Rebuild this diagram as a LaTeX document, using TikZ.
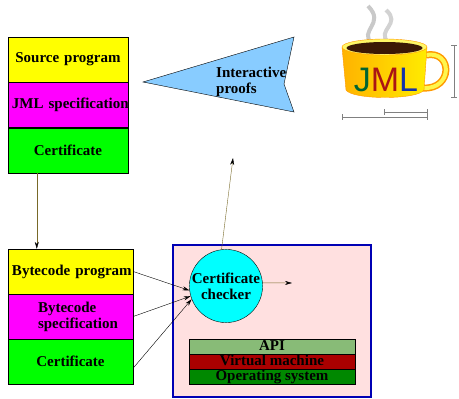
\documentclass[tikz,border=0pt]{standalone}
\usepackage{fontspec}
\setmainfont{Liberation Serif}
\setsansfont{Liberation Sans}
\usetikzlibrary{arrows.meta}
\definecolor{wire}{RGB}{120,105,40}
\definecolor{srcyellow}{RGB}{255,255,0}
\definecolor{specmagenta}{RGB}{255,0,255}
\definecolor{certgreen}{RGB}{0,255,0}
\definecolor{checkcyan}{RGB}{0,255,255}
\definecolor{jvmblue}{RGB}{0,0,180}
\definecolor{jvmpink}{RGB}{255,224,224}
\definecolor{proofblue}{RGB}{136,204,255}
\definecolor{apigreen}{RGB}{136,187,119}
\definecolor{vmred}{RGB}{170,0,0}
\definecolor{osgreen}{RGB}{0,136,0}
\definecolor{coffee}{RGB}{60,25,5}
\definecolor{jgreen}{RGB}{0,100,50}
\definecolor{mred}{RGB}{170,20,20}
\definecolor{lblue}{RGB}{20,50,170}

\begin{document}
\begin{tikzpicture}[x=1pt,y=-1pt,>={Stealth[length=7pt,width=4pt,black]},
    every node/.style={font=\fontsize{15}{16}\selectfont\bfseries},
    part/.style={draw, rectangle, inner ysep=0, minimum height=45, align=center},
    layer/.style={draw, rectangle, inner sep=0, minimum width=166, minimum height=15, text height=11, text depth=4}]
    \useasboundingbox (0,0) rectangle (459,399);

    \node at (68,59.5)  [part,fill=srcyellow,text width=112,inner xsep=4] (src) {\mbox{Source program}};
    \node at (68,105)   [part,fill=specmagenta,text width=112,inner xsep=4] (spec) {\mbox{JML specification}};
    \node at (68,150.5) [part,fill=certgreen,text width=112,inner xsep=4] (cert) {Certificate};

    \node at (70.5,271.5) [part,fill=srcyellow,text width=117,inner xsep=4] (bprog) {\mbox{Bytecode program}};
    \node at (70.5,316.5) [part,fill=specmagenta,text width=65,inner xsep=30,align=left] (bspec) {\mbox{Bytecode}\\\mbox{specification}};
    \node at (70.5,361.5) [part,fill=certgreen,text width=117,inner xsep=4] (bcert) {Certificate};

    \node at (272,321) [draw=jvmblue,line width=2.5,fill=jvmpink,minimum width=198,minimum height=152,inner sep=0] (jvm) {};
    \node at (226,286) [draw,circle,fill=checkcyan,minimum size=66,inner sep=0,align=center] (chk) {Certificate\\checker};
    \node at (272,346.5) [layer,fill=apigreen] (api) {API};
    \node at (272,361.5) [layer,fill=vmred] (vm) {Virtual machine};
    \node at (272,376.5) [layer,fill=osgreen] (os) {Operating system};

    \draw[fill=proofblue] (143,82) -- (294,37) -- (284,84) -- (294,112) -- cycle;
    \node at (216,82) [anchor=west,align=left,inner sep=0] (proofs) {Interactive\\proofs};

    \coordinate (out) at (292,283);
    \coordinate (up) at (233,158);
    \draw[->,wire] ([xshift=29pt]cert.south west) -- ([xshift=29pt]bprog.north west);
    \draw[->] (bprog.east) -- (chk.187);
    \draw[->] (bspec.east) -- (chk.196);
    \draw[->] (bcert.-6) -- (chk.201);
    \draw[->,wire] (chk.5) -- (out);
    \draw[->,wire] (chk.97) -- (up);

    \draw[line width=4,gray!60,opacity=0.7] (372,44) .. controls (358,30) and (386,24) .. (368,6);
    \draw[line width=4,gray!50,opacity=0.7] (388,42) .. controls (376,30) and (402,24) .. (386,10);
    \draw[line width=7,orange!80!yellow] (426,55) .. controls (453,50) and (453,90) .. (423,88);
    \draw[line width=4,yellow!70] (426,55) .. controls (453,50) and (453,90) .. (423,88);
    \draw[orange!80!yellow,left color=orange!60!yellow,middle color=yellow!25,right color=yellow!85!orange]
        (342,47) -- (346,90) .. controls (352,100) and (418,100) .. (424,90) -- (427,47) -- cycle;
    \draw[orange!80!yellow,fill=yellow!60] (384.5,47) ellipse [x radius=42.5,y radius=8];
    \fill[coffee] (384.5,48) ellipse [x radius=38,y radius=6];
    \node at (386,80) [font=\fontsize{34}{34}\selectfont\sffamily,inner sep=0] (jml) {\textcolor{jgreen}{J}\textcolor{mred}{M}\textcolor{lblue}{L}};

    \draw[gray] (454,45) -- (454,97);
    \draw[gray] (451,45) -- (457,45);
    \draw[gray] (451,97) -- (457,97);
    \draw[gray] (342,117) -- (427,117);
    \draw[gray] (342,114) -- (342,120);
    \draw[gray] (427,114) -- (427,120);
    \draw[gray] (384,112) -- (427,112);
    \draw[gray] (384,109) -- (384,115);
    \draw[gray] (427,109) -- (427,115);
\end{tikzpicture}
\end{document}
